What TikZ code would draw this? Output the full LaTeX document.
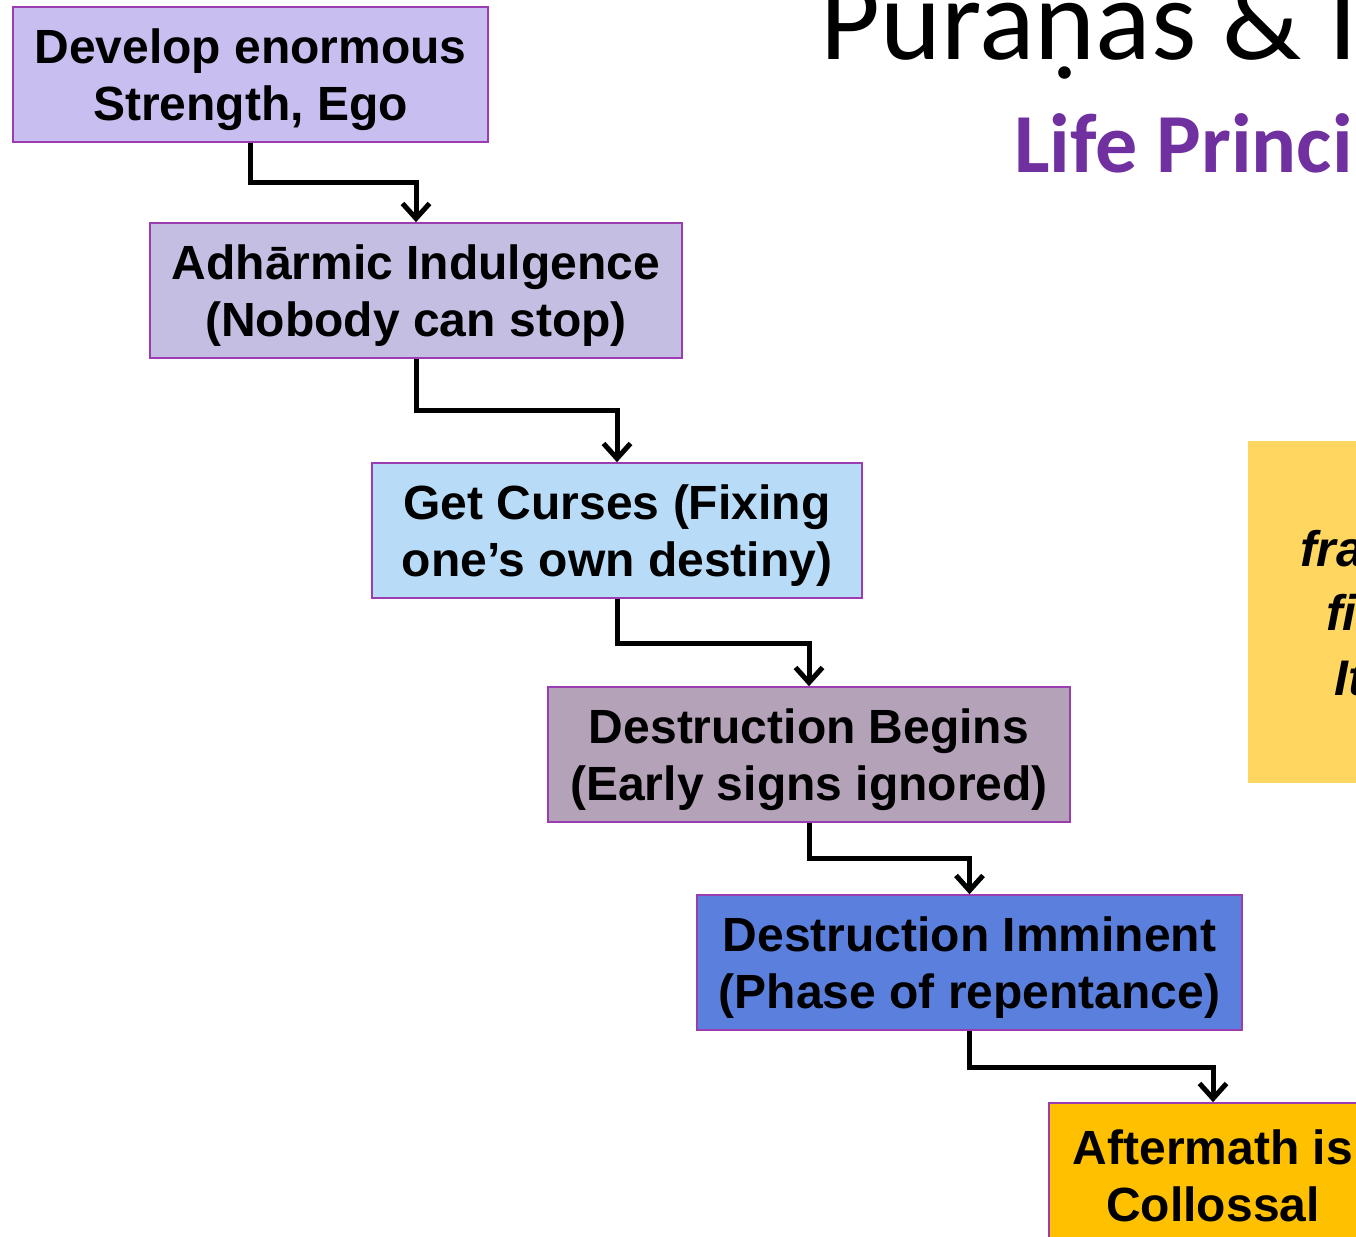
\documentclass[tikz,border=0pt]{standalone}
\usepackage{fontspec}
\setmainfont{Liberation Sans}
\newfontfamily\titlefont{Carlito}
\usetikzlibrary{arrows.meta}
\definecolor{bdr}{HTML}{9B3DB0}
\definecolor{cA}{HTML}{C9BEF0}
\definecolor{cB}{HTML}{C4BEE3}
\definecolor{cC}{HTML}{B8DCF7}
\definecolor{cD}{HTML}{B4A2B8}
\definecolor{cE}{HTML}{5B7FDC}
\definecolor{cF}{HTML}{FFC000}
\definecolor{note}{HTML}{FFD65F}
\definecolor{ttl}{HTML}{7030A0}
\tikzset{
  stepbox/.style={draw=bdr, line width=1.6pt, inner sep=0pt, minimum height=135pt},
  steptext/.style={inner sep=0pt, align=center, yshift=-5pt,
    font=\bfseries\fontsize{48}{57}\selectfont},
  conn/.style={line width=5pt, -{Straight Barb[length=15pt,width=27pt]}},
  frag/.style={anchor=base west, inner sep=0pt, font=\bfseries\itshape\fontsize{50}{50}\selectfont}
}
\begin{document}
\begin{tikzpicture}[x=1pt,y=-1pt]
\useasboundingbox (0,0) rectangle (1356,1236);
\clip (0,0) rectangle (1356,1236);
\fill[white] (0,0) rectangle (1356,1236);
% title
\node[anchor=base west, inner sep=0pt, font=\titlefont\fontsize{116}{116}\selectfont] (title) at (820,60) {Puraṇas \& I};
\node[anchor=base west, inner sep=0pt, text=ttl, font=\titlefont\bfseries\fontsize{84}{84}\selectfont] (sub) at (1014,172) {Life Princi};
% note
\node[fill=note, inner sep=0pt, minimum width=160pt, minimum height=342pt, anchor=north west] (note) at (1248,441) {};
\node[frag] (n1) at (1300,566) {fra};
\node[frag] (n2) at (1326,630) {fi};
\node[frag] (n3) at (1334,695) {It};
% boxes
\node[stepbox, fill=cA, minimum width=475pt] (a) at (250.5,74.5) {};
\node[stepbox, fill=cB, minimum width=532pt] (b) at (416,290.5) {};
\node[stepbox, fill=cC, minimum width=490pt] (c) at (617,530.5) {};
\node[stepbox, fill=cD, minimum width=522pt] (d) at (809,754.5) {};
\node[stepbox, fill=cE, minimum width=545pt] (e) at (969.5,962.5) {};
\node[stepbox, fill=cF, minimum width=328pt] (f) at (1213,1170.5) {};
\node[steptext] (ta) at (a.center) {Develop enormous\\Strength, Ego};
\node[steptext] (tb) at (b.center) {Adhārmic Indulgence\\(Nobody can stop)};
\node[steptext] (tc) at (c.center) {Get Curses (Fixing\\one’s own destiny)};
\node[steptext] (td) at (d.center) {Destruction Begins\\(Early signs ignored)};
\node[steptext] (te) at (e.center) {Destruction Imminent\\(Phase of repentance)};
\node[steptext] (tf) at (f.center) {Aftermath is\\Collossal};
% connectors
\draw[conn] (a.south) -- ++(0,40) -| (b.north);
\draw[conn] (b.south) -- ++(0,52) -| (c.north);
\draw[conn] (c.south) -- ++(0,45) -| (d.north);
\draw[conn] (d.south) -- ++(0,36) -| (e.north);
\draw[conn] (e.south) -- ++(0,37) -| (f.north);
\end{tikzpicture}
\end{document}
